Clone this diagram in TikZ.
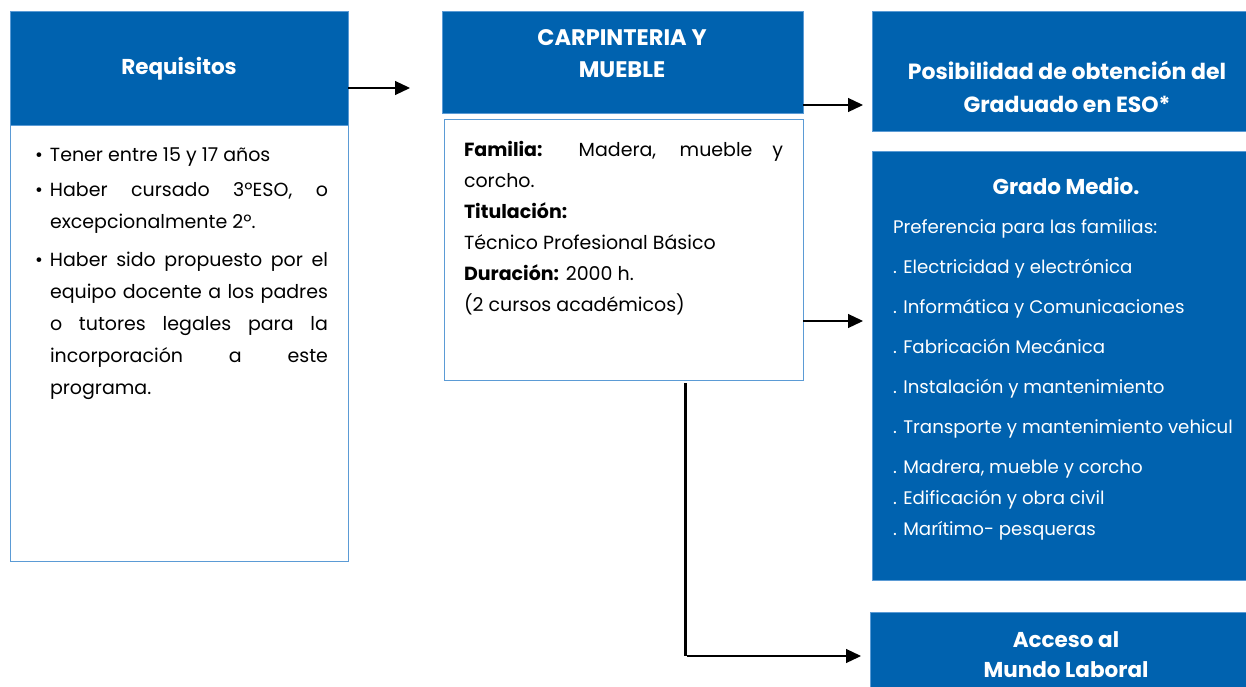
\documentclass[tikz,border=0pt]{standalone}
\usepackage{fontspec}
\setmainfont{Poppins}
\usetikzlibrary{positioning,arrows.meta,calc}
\definecolor{boxblue}{HTML}{0062AF}
\definecolor{edgeblue}{HTML}{5B9BD5}

\begin{document}
\begin{tikzpicture}[x=1pt, y=-1pt, inner sep=0pt, outer sep=0pt]
      \tikzset{
	  bluebox/.style={rectangle, draw=edgeblue, fill=boxblue, line width=1pt, anchor=north west},
	  whitebox/.style={rectangle, draw=edgeblue, fill=white, line width=1pt, anchor=north west},
	  title/.style={text=white, font=\fontsize{21.5}{32}\selectfont\bfseries, align=center},
	  body/.style={font=\fontsize{19}{31}\selectfont, anchor=north west},
	  link/.style={-{Triangle[length=15pt,width=14pt]}, line width=1.2pt, shorten >=9pt},
	  drop/.style={line width=3pt}
      }
      \clip (0,0) rectangle (1246,687);
      \fill[white] (0,0) rectangle (1246,687);

      % requisitos
      \node[whitebox, minimum width=338pt, minimum height=549pt] (reqbox) at (10,12) {};
      \node[bluebox, minimum width=338pt, minimum height=114pt] (req) at (10,12) {};
      \node[title] (reqtitle) at (req.center) {Requisitos};
      \node[body, font=\fontsize{19}{32}\selectfont, text width=278pt, align=justify] (reqtext) at (50,148) {%
	\llap{\textbullet\hspace{7pt}}Tener entre 15 y 17 años\\[3pt]
	\llap{\textbullet\hspace{7pt}}Haber cursado 3ºESO, o\linebreak excepcionalmente 2º.\\[6pt]
	\llap{\textbullet\hspace{7pt}}Haber sido propuesto por el\linebreak equipo docente a los padres\linebreak o tutores legales para la\linebreak incorporación a este\linebreak programa.};

      % ciclo
      \node[bluebox, minimum width=361pt, minimum height=102pt] (carp) at (442,12) {};
      \node[title, font=\fontsize{22.5}{32}\selectfont\bfseries] (carptitle) at (622,54) {CARPINTERIA Y\\MUEBLE};
      \node[whitebox, minimum width=359pt, minimum height=260pt] (info) at (444,120) {};
      \node[body, text width=319pt, align=justify] (infotext) at (464,141) {%
	{\bfseries Familia:} Madera, mueble y\linebreak corcho.\\
	{\bfseries Titulación:}\\
	Técnico Profesional Básico\\
	{\bfseries Duración:} 2000 h.\\
	(2 cursos académicos)};

      % salidas
      \node[bluebox, minimum width=388pt, minimum height=120pt] (posib) at (872,12) {};
      \node[title, font=\fontsize{22}{33}\selectfont\bfseries] (posibtitle) at (1067,87) {Posibilidad de obtención del\\Graduado en ESO*};
      \node[bluebox, minimum width=388pt, minimum height=428pt] (grado) at (872,152) {};
      \node[title] (gradotitle) at (1066,186) {Grado Medio.};
      \node[body, font=\fontsize{18.2}{31}\selectfont, text=white, align=left] (gradotext) at (893,220) {%
	Preferencia para las familias:\\[9pt]
	. Electricidad y electrónica\\[9pt]
	. Informática y Comunicaciones\\[9pt]
	. Fabricación Mecánica\\[9pt]
	. Instalación y mantenimiento\\[9pt]
	. Transporte y mantenimiento vehicul\\[9pt]
	. Madrera, mueble y corcho\\
	. Edificación y obra civil\\
	. Marítimo- pesqueras};
      \node[bluebox, minimum width=390pt, minimum height=88pt] (acceso) at (870,612) {};
      \node[title, font=\fontsize{21.5}{30}\selectfont\bfseries] (accesotitle) at (1066,655) {Acceso al\\Mundo Laboral};

      % flechas
      \coordinate (reqend) at (419,88);
      \coordinate (drop) at (685,383);
      \draw[link] (req.east |- reqend) -- (reqend);
      \draw[link] ([yshift=9pt]carp.south east) -- ([yshift=9pt]carp.south east -| posib.west);
      \draw[link] ([yshift=59pt]info.south east) -- ([yshift=59pt]info.south east -| grado.west);
      \draw[drop] (drop) -- (drop |- acceso.west);
      \draw[link] ([xshift=2pt]drop |- acceso.west) -- (acceso.west);
\end{tikzpicture}
\end{document}
